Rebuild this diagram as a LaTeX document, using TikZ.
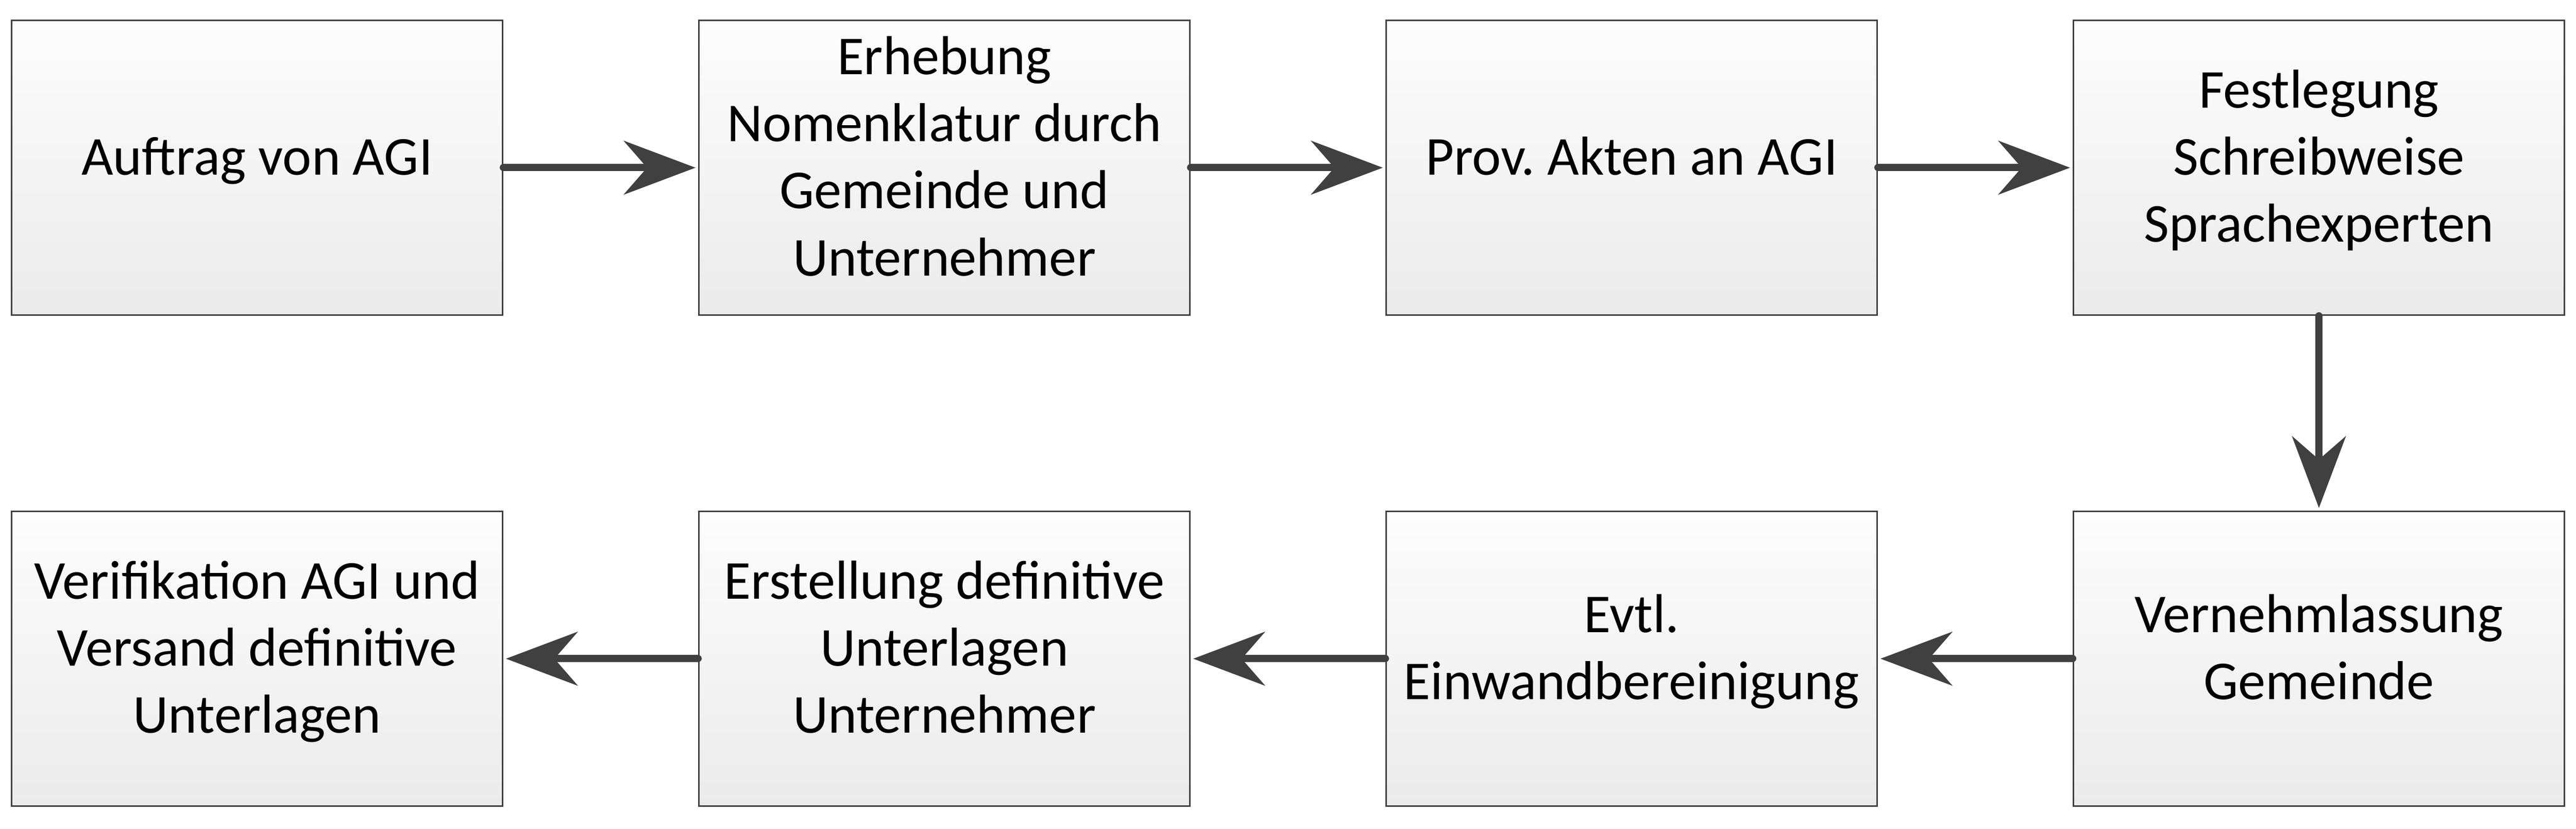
\documentclass[tikz,border=0pt]{standalone}
\usepackage{fontspec}
\setmainfont{Carlito}
\frenchspacing
\usetikzlibrary{arrows.meta}
\definecolor{rand}{RGB}{64,64,64}
\definecolor{oben}{RGB}{253,253,253}
\definecolor{unten}{RGB}{235,235,235}

\begin{document}
\begin{tikzpicture}[
 box/.style={draw=rand, line width=0.03cm, top color=oben, bottom color=unten, minimum width=9.53cm, minimum height=5.72cm, inner sep=0pt, text depth=0.45cm, align=center, font=\fontsize{30.3}{37}\selectfont},
 pfeil/.style={draw=rand, line width=0.14cm, line cap=round, -{Stealth[length=1.39cm, width=1.04cm, inset=0.45cm]}, shorten >=0.05cm}]
\useasboundingbox (0,0) rectangle (50,16.09);
% obere Reihe
\node[box] (auftrag) at (4.99,12.835) {Auftrag von AGI};
\node[box] (erhebung) at (18.33,12.835) {Erhebung\\Nomenklatur durch\\Gemeinde und\\Unternehmer};
\node[box] (akten) at (31.67,12.835) {Prov. Akten an AGI};
\node[box] (festlegung) at (45.01,12.835) {Festlegung\\Schreibweise\\Sprachexperten};
% untere Reihe
\node[box] (vernehm) at (45.01,3.305) {Vernehmlassung\\Gemeinde};
\node[box] (einwand) at (31.67,3.305) {Evtl.\\Einwandbereinigung};
\node[box] (erstellung) at (18.33,3.305) {Erstellung definitive\\Unterlagen\\Unternehmer};
\node[box] (verifikation) at (4.99,3.305) {Verifikation AGI und\\Versand definitive\\Unterlagen};
\foreach \a/\b in {auftrag/erhebung, erhebung/akten, akten/festlegung}
 \draw[pfeil] (\a.east)--(\b.west);
\draw[pfeil] (festlegung.south)--(vernehm.north);
\foreach \a/\b in {vernehm/einwand, einwand/erstellung, erstellung/verifikation}
 \draw[pfeil] (\a.west)--(\b.east);
\end{tikzpicture}
\end{document}
